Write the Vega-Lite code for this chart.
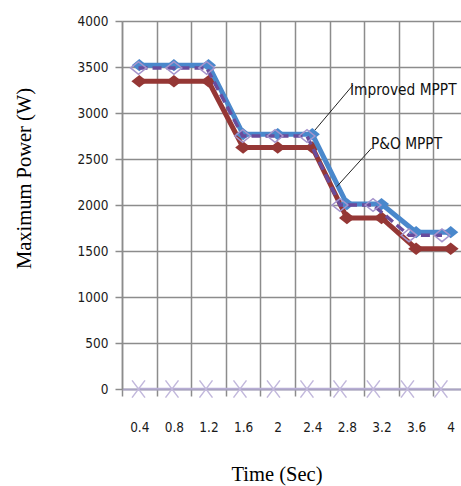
{
  "$schema": "https://vega.github.io/schema/vega-lite/v6.json",
  "width": 339,
  "height": 368,
  "autosize": {"type": "none"},
  "padding": {"left": 122, "top": 21, "right": 0, "bottom": 97},
  "background": "white",
  "config": {
    "view": {"stroke": null},
    "axis": {
      "labelFont": "DejaVu Sans Condensed",
      "labelFontSize": 13.5,
      "labelColor": "#1a1a1a",
      "titleFont": "Liberation Serif",
      "titleFontSize": 20.5,
      "titleFontWeight": "normal",
      "titleColor": "#000000",
      "gridColor": "#8c8c8c",
      "gridWidth": 1.5,
      "gridOpacity": 1,
      "tickColor": "#8c8c8c",
      "tickWidth": 1.5,
      "tickSize": 7,
      "domainColor": "#8c8c8c",
      "domainWidth": 1.5
    }
  },
  "datasets": {
    "main": [
      {"t": 0.4, "power": 3520, "series": "Improved MPPT"},
      {"t": 0.8, "power": 3520, "series": "Improved MPPT"},
      {"t": 1.2, "power": 3520, "series": "Improved MPPT"},
      {"t": 1.6, "power": 2770, "series": "Improved MPPT"},
      {"t": 2.0, "power": 2770, "series": "Improved MPPT"},
      {"t": 2.4, "power": 2770, "series": "Improved MPPT"},
      {"t": 2.8, "power": 2010, "series": "Improved MPPT"},
      {"t": 3.2, "power": 2010, "series": "Improved MPPT"},
      {"t": 3.6, "power": 1705, "series": "Improved MPPT"},
      {"t": 4.0, "power": 1705, "series": "Improved MPPT"},
      {"t": 0.4, "power": 3345, "series": "P&O MPPT"},
      {"t": 0.8, "power": 3345, "series": "P&O MPPT"},
      {"t": 1.2, "power": 3345, "series": "P&O MPPT"},
      {"t": 1.6, "power": 2625, "series": "P&O MPPT"},
      {"t": 2.0, "power": 2625, "series": "P&O MPPT"},
      {"t": 2.4, "power": 2625, "series": "P&O MPPT"},
      {"t": 2.8, "power": 1860, "series": "P&O MPPT"},
      {"t": 3.2, "power": 1860, "series": "P&O MPPT"},
      {"t": 3.6, "power": 1525, "series": "P&O MPPT"},
      {"t": 4.0, "power": 1525, "series": "P&O MPPT"}
    ],
    "second": [
      {"t": 0.391, "power": 3490, "series": "Reference"},
      {"t": 0.800, "power": 3490, "series": "Reference"},
      {"t": 1.179, "power": 3490, "series": "Reference"},
      {"t": 1.595, "power": 2750, "series": "Reference"},
      {"t": 1.969, "power": 2750, "series": "Reference"},
      {"t": 2.339, "power": 2750, "series": "Reference"},
      {"t": 2.720, "power": 2000, "series": "Reference"},
      {"t": 3.102, "power": 2000, "series": "Reference"},
      {"t": 3.518, "power": 1670, "series": "Reference"},
      {"t": 3.899, "power": 1670, "series": "Reference"},
      {"t": 0.391, "power": 0, "series": "Zero"},
      {"t": 0.778, "power": 0, "series": "Zero"},
      {"t": 1.171, "power": 0, "series": "Zero"},
      {"t": 1.564, "power": 0, "series": "Zero"},
      {"t": 1.951, "power": 0, "series": "Zero"},
      {"t": 2.338, "power": 0, "series": "Zero"},
      {"t": 2.720, "power": 0, "series": "Zero"},
      {"t": 3.106, "power": 0, "series": "Zero"},
      {"t": 3.500, "power": 0, "series": "Zero"},
      {"t": 3.887, "power": 0, "series": "Zero"}
    ],
    "notes": [
      {"x": 2.836, "y": 3196, "label": "Improved MPPT"},
      {"x": 3.078, "y": 2609, "label": "P&O MPPT"}
    ],
    "leaders": [
      {"x": 2.431, "y": 2815, "x2": 2.870, "y2": 3304},
      {"x": 2.682, "y": 2199, "x2": 3.087, "y2": 2620}
    ]
  },
  "encoding": {
    "x": {
      "field": "t",
      "type": "quantitative",
      "scale": {"domain": [0.2, 4.119], "nice": false, "zero": false},
      "axis": {
        "values": [0.4, 0.8, 1.2, 1.6, 2.0, 2.4, 2.8, 3.2, 3.6, 4.0],
        "format": "~g",
        "tickOffset": -17.3,
        "labelOffset": 17.3,
        "labelPadding": 24,
        "labelBaseline": "top",
        "grid": true,
        "title": "Time (Sec)",
        "titleX": 154.5,
        "titleY": 91,
        "titleBaseline": "alphabetic",
        "titleAlign": "center",
        "domainColor": "#aaa4c4",
        "domainWidth": 2
      }
    },
    "y": {
      "field": "power",
      "type": "quantitative",
      "scale": {"domain": [0, 4000], "nice": false},
      "axis": {
        "values": [0, 500, 1000, 1500, 2000, 2500, 3000, 3500, 4000],
        "format": "d",
        "labelPadding": 7,
        "grid": true,
        "title": "Maximum Power (W)",
        "titleAngle": -90,
        "titleX": -98,
        "titleY": 157,
        "titleAlign": "center",
        "titleBaseline": "middle"
      }
    }
  },
  "layer": [
    {
      "data": {"name": "main"},
      "transform": [{"filter": "datum.series == 'P&O MPPT'"}],
      "mark": {"type": "line", "color": "#953735", "strokeWidth": 5, "clip": true},
      "encoding": {}
    },
    {
      "data": {"name": "main"},
      "transform": [{"filter": "datum.series == 'P&O MPPT'"}],
      "mark": {"type": "point", "shape": "M-1,0L0,-0.8L1,0L0,0.8Z", "filled": true, "color": "#953735", "size": 250, "opacity": 1},
      "encoding": {}
    },
    {
      "data": {"name": "main"},
      "transform": [{"filter": "datum.series == 'Improved MPPT'"}],
      "mark": {"type": "line", "color": "#4a88cc", "strokeWidth": 5, "clip": true},
      "encoding": {}
    },
    {
      "data": {"name": "main"},
      "transform": [{"filter": "datum.series == 'Improved MPPT'"}],
      "mark": {"type": "point", "shape": "M-1,0L0,-0.8L1,0L0,0.8Z", "filled": true, "color": "#4a88cc", "size": 230, "opacity": 1},
      "encoding": {}
    },
    {
      "data": {"name": "second"},
      "transform": [{"filter": "datum.series == 'Reference'"}],
      "mark": {"type": "line", "color": "#6a4c9c", "strokeWidth": 3.5, "strokeDash": [9, 5], "clip": true},
      "encoding": {}
    },
    {
      "data": {"name": "second"},
      "transform": [{"filter": "datum.series == 'Reference'"}],
      "mark": {"type": "point", "shape": "M-1,0L0,-0.8L1,0L0,0.8Z", "filled": false, "color": "#a594cc", "strokeWidth": 1.5, "size": 250, "opacity": 1},
      "encoding": {}
    },
    {
      "data": {"name": "second"},
      "transform": [{"filter": "datum.series == 'Zero'"}],
      "mark": {"type": "line", "color": "#b8aed4", "strokeWidth": 2.5, "clip": true},
      "encoding": {}
    },
    {
      "data": {"name": "second"},
      "transform": [{"filter": "datum.series == 'Zero'"}],
      "mark": {"type": "point", "shape": "M-0.75,-1L0.75,1M-0.75,1L0.75,-1", "filled": false, "color": "#c2b8dc", "strokeWidth": 1.5, "size": 300, "opacity": 1},
      "encoding": {}
    },
    {
      "data": {"name": "leaders"},
      "mark": {"type": "rule", "color": "#222222", "strokeWidth": 1},
      "encoding": {
        "x": {"field": "x", "type": "quantitative"},
        "y": {"field": "y", "type": "quantitative"},
        "x2": {"field": "x2"},
        "y2": {"field": "y2"}
      }
    },
    {
      "data": {"name": "notes"},
      "mark": {"type": "text", "align": "left", "baseline": "alphabetic", "font": "DejaVu Sans Condensed", "fontSize": 15.3, "color": "#111111"},
      "encoding": {
        "x": {"field": "x", "type": "quantitative"},
        "y": {"field": "y", "type": "quantitative"},
        "text": {"field": "label"}
      }
    }
  ]
}
